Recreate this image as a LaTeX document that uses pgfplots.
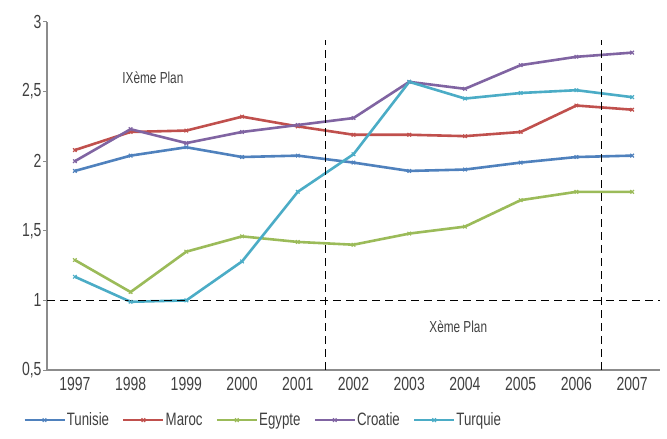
\documentclass[border=0pt]{standalone}
\usepackage{fontspec}
\setmainfont{Liberation Sans}[FakeStretch=0.74]
\usepackage{pgfplots}
\pgfplotsset{compat=1.18}
\definecolor{cTun}{HTML}{4F81BD}
\definecolor{cMar}{HTML}{C0504D}
\definecolor{cEgy}{HTML}{9BBB59}
\definecolor{cCro}{HTML}{8064A2}
\definecolor{cTur}{HTML}{4BACC6}
\definecolor{axgray}{HTML}{8C8C8C}
\definecolor{txgray}{HTML}{404040}
\begin{document}
\begin{tikzpicture}[x=1bp,y=1bp]
\begin{axis}[
  at={(0,0)}, anchor=south west,
  scale only axis, width=613bp, height=348bp,
  xmin=-0.5, xmax=10.5, ymin=0.5, ymax=3,
  axis x line=bottom, axis y line=left,
  axis line style={-, axgray, line width=1.8bp},
  xtick={0,...,10},
  xticklabels={1997,1998,1999,2000,2001,2002,2003,2004,2005,2006,2007},
  major x tick style={draw=none},
  extra x ticks={-0.5,0.5,1.5,2.5,3.5,4.5,5.5,6.5,7.5,8.5,9.5,10.5},
  extra x tick labels={},
  extra x tick style={major tick length=5bp, tick align=inside, tick style={axgray, line width=1bp}},
  ytick={0.5,1,1.5,2,2.5,3},
  yticklabels={{0,5},1,{1,5},2,{2,5},3},
  y tick style={axgray, line width=1bp},
  major tick length=4bp,
  tick align=outside,
  every tick label/.append style={font=\fontsize{19}{21}\selectfont, text=txgray},
  yticklabel style={xshift=2bp},
  legend columns=5,
  legend style={at={(-0.044,-0.144)}, anchor=west, draw=none, fill=none,
    font=\fontsize{18}{20}\selectfont, text=txgray,
    /tikz/every even column/.append style={column sep=12bp},
    nodes={inner sep=1bp}},
  legend image code/.code={\draw[mark repeat=2,mark phase=2,#1] plot coordinates {(0bp,0bp) (20bp,0bp) (40bp,0bp)};},
  every axis plot/.append style={line width=2.6bp, mark=x, mark size=2.5bp, mark options={line width=1.2bp}},
]
\addplot[cTun] coordinates {(0,1.93)(1,2.04)(2,2.10)(3,2.03)(4,2.04)(5,1.99)(6,1.93)(7,1.94)(8,1.99)(9,2.03)(10,2.04)};
\addlegendentry{Tunisie}
\addplot[cMar] coordinates {(0,2.08)(1,2.21)(2,2.22)(3,2.32)(4,2.25)(5,2.19)(6,2.19)(7,2.18)(8,2.21)(9,2.40)(10,2.37)};
\addlegendentry{Maroc}
\addplot[cEgy] coordinates {(0,1.29)(1,1.06)(2,1.35)(3,1.46)(4,1.42)(5,1.40)(6,1.48)(7,1.53)(8,1.72)(9,1.78)(10,1.78)};
\addlegendentry{Egypte}
\addplot[cCro] coordinates {(0,2.00)(1,2.23)(2,2.13)(3,2.21)(4,2.26)(5,2.31)(6,2.57)(7,2.52)(8,2.69)(9,2.75)(10,2.78)};
\addlegendentry{Croatie}
\addplot[cTur] coordinates {(0,1.17)(1,0.99)(2,1.00)(3,1.28)(4,1.78)(5,2.05)(6,2.57)(7,2.45)(8,2.49)(9,2.51)(10,2.46)};
\addlegendentry{Turquie}
\addplot[black, line width=1.5bp, dash pattern=on 8bp off 5bp, mark=none, forget plot] coordinates {(-0.5,1)(10.5,1)};
\addplot[black, line width=1.5bp, dash pattern=on 8bp off 5bp, mark=none, forget plot] coordinates {(4.5,0.5)(4.5,2.87)};
\addplot[black, line width=1.5bp, dash pattern=on 8bp off 5bp, mark=none, forget plot] coordinates {(9.45,0.5)(9.45,2.87)};
\node[font=\fontsize{16}{18}\selectfont, text=txgray] at (axis cs:1.4,2.6) {IXème Plan};
\node[font=\fontsize{16}{18}\selectfont, text=txgray] at (axis cs:6.88,0.81) {Xème Plan};
\end{axis}
\path (-47bp,-69bp) (620bp,370bp);
\end{tikzpicture}
\end{document}
